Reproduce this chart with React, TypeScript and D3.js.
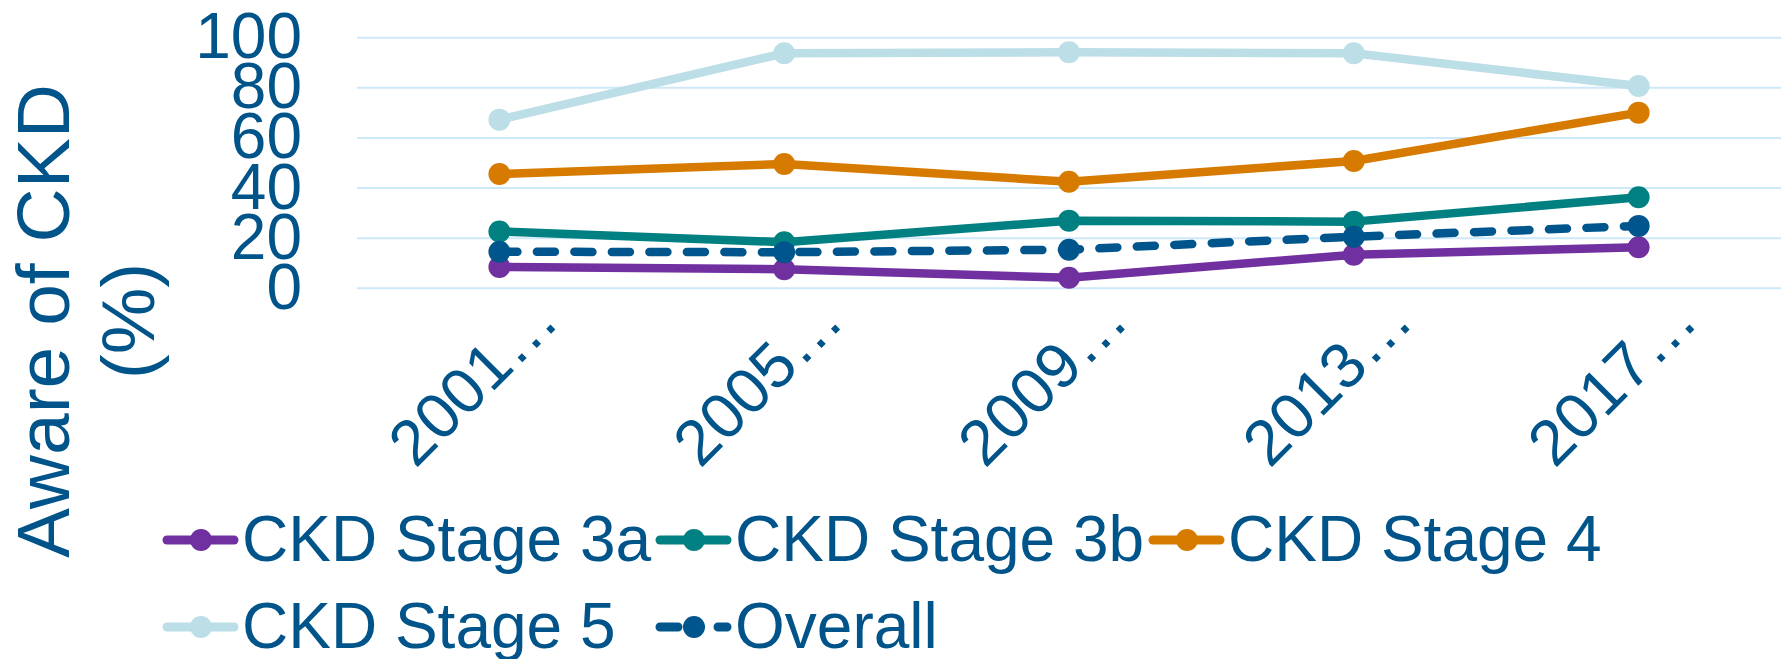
import React from "react";
import * as d3 from "d3";

const categories = ["2001…", "2005…", "2009…", "2013…", "2017…"];
const stage3a = [8.5, 7.6, 4.2, 13.4, 16.4];
const stage3b = [22.7, 18.4, 27.0, 26.6, 36.3];
const stage4 = [45.6, 49.6, 42.5, 50.8, 70.1];
const stage5 = [67.3, 93.8, 94.2, 93.8, 80.7];
const overall = [14.6, 14.4, 15.4, 20.6, 24.9];
const yTicks = [0, 20, 40, 60, 80, 100];

const seriesNames = ["CKD Stage 3a", "CKD Stage 3b", "CKD Stage 4", "CKD Stage 5", "Overall"];
const seriesColors = ["#7030A0", "#008080", "#D67A00", "#BCDEE6", "#00558C"];
const seriesValues = [stage3a, stage3b, stage4, stage5, overall];
const seriesDashed = [false, false, false, false, true];

const TEXT = "#00548A";
const FONT = "'Liberation Sans', Arial, sans-serif";

export default function App() {
  const W = 1791, H = 659;
  const x = d3.scaleBand<string>().domain(categories).range([357, 1781]).padding(0);
  const cx = (c: string) => (x(c) as number) + x.bandwidth() / 2;
  const y = d3.scaleLinear().domain([0, 100]).range([288.3, 37.7]);
  const line = d3.line<number>().x((_, i) => cx(categories[i])).y((v) => y(v));

  const legendCols = [163, 656, 1149];
  const legendRows = [540, 627];

  return (
    <svg width={W} height={H} style={{ position: "absolute", left: 0, top: 0, background: "#fff" }} fontFamily={FONT}>
      {yTicks.map((t) => (
        <g key={t}>
          <line x1={357} x2={1781} y1={y(t)} y2={y(t)} stroke="#CDE8F8" strokeWidth={2} />
          <text x={302} y={y(t) + 20.5} textAnchor="end" fontSize={64} fill={TEXT}>{t}</text>
        </g>
      ))}
      {categories.map((c) => (
        <text key={c} transform={`translate(${cx(c) + 62},${y(0) + 35}) rotate(-45)`} textAnchor="end" fontSize={64} fill={TEXT}>{c}</text>
      ))}
      <text transform="translate(69,321) rotate(-90)" textAnchor="middle" fontSize={75} fill={TEXT}>Aware of CKD</text>
      <text transform="translate(154,321) rotate(-90)" textAnchor="middle" fontSize={75} fill={TEXT}>(%)</text>
      {seriesValues.map((vals, si) => (
        <g key={si}>
          <path d={line(vals) || ""} fill="none" stroke={seriesColors[si]} strokeWidth={8.5} strokeLinejoin="round" strokeLinecap="round" strokeDasharray={seriesDashed[si] ? "18 19.5" : undefined} />
          {vals.map((v, i) => (
            <circle key={i} cx={cx(categories[i])} cy={y(v)} r={11} fill={seriesColors[si]} />
          ))}
        </g>
      ))}
      {seriesNames.map((name, i) => {
        const lx = legendCols[i % 3];
        const ly = legendRows[Math.floor(i / 3)];
        return (
          <g key={name}>
            <line x1={lx + 4} x2={lx + 71} y1={ly} y2={ly} stroke={seriesColors[i]} strokeWidth={9} strokeLinecap="round" strokeDasharray={seriesDashed[i] ? "18 40" : undefined} />
            <circle cx={lx + 38} cy={ly} r={11} fill={seriesColors[i]} />
            <text x={lx + 79} y={ly + 21} fontSize={64} fill={TEXT}>{name}</text>
          </g>
        );
      })}
    </svg>
  );
}
